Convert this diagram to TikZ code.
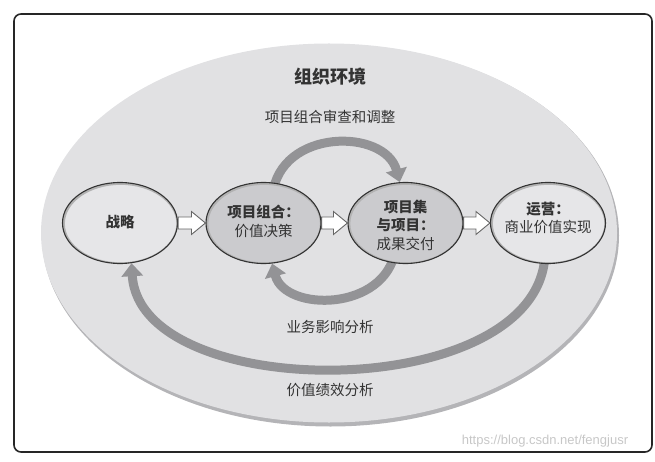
\documentclass[tikz,border=0pt]{standalone}
\usepackage{fontspec}
\setmainfont{Noto Sans CJK SC}
\newfontfamily\wmfont{Liberation Sans}
\usetikzlibrary{shapes.geometric,arrows.meta,calc}
\pgfdeclarelayer{bg}
\pgfdeclarelayer{mid}
\pgfsetlayers{bg,mid,main}
\definecolor{envfill}{HTML}{E1E1E3}
\definecolor{envrim}{HTML}{B4B4B7}
\definecolor{arcgray}{HTML}{939396}
\definecolor{lightnode}{HTML}{E6E6E8}
\definecolor{darknode}{HTML}{CBCBCE}
\definecolor{txt}{HTML}{333333}
\newcommand\blockarrow[2]{%
  \draw[hollow] ($(#1.east)+(0,-6)$) -- ($(#2.west)+(-14,-6)$) -- ($(#2.west)+(-14,-11.5)$) -- (#2.west) -- ($(#2.west)+(-14,11.5)$) -- ($(#2.west)+(-14,6)$) -- ($(#1.east)+(0,6)$) -- cycle;}
\begin{document}
\begin{tikzpicture}[x=1pt,y=-1pt,
  stage/.style={ellipse, draw=black!80, line width=1.1pt, minimum width=115pt, minimum height=81pt, inner sep=0pt,
    path picture={\draw[black!30, line width=3.5pt] ([xshift=0.6pt,yshift=-0.6pt]path picture bounding box.center) ellipse (57.5pt and 40.5pt);}},
  lightstage/.style={stage, fill=lightnode},
  darkstage/.style={stage, fill=darknode},
  stagetext/.style={align=center, text=txt, inner sep=0pt, font=\fontsize{14.5}{18.5}\selectfont},
  loop/.style={draw=arcgray, line width=9pt, -{Triangle[width=21pt,length=13pt]}},
  hollow/.style={draw=black!60, fill=white, line width=0.9pt, line join=miter},
  lbl/.style={text=txt, font=\fontsize{14.5}{17}\selectfont}
]
\useasboundingbox (0,0) rectangle (655,462);
\draw[black!85, line width=1.6pt, rounded corners=7pt] (14,14) rectangle (652,452);
\begin{pgfonlayer}{bg}
\node[ellipse, fill=envrim, minimum width=577pt, minimum height=382pt, inner sep=0] (envrim) at (330.5,235.5) {};
\node[ellipse, fill=envfill, minimum width=576pt, minimum height=379pt, inner sep=0] (env) at (329,233) {};
\end{pgfonlayer}
\node[font=\fontsize{18}{20}\selectfont\bfseries, text=txt] (title) at (330,77) {组织环境};
\node[lbl] (review) at (330,117) {项目组合审查和调整};
\node[lbl] (impact) at (330,327) {业务影响分析};
\node[lbl] (value) at (330,390) {价值绩效分析};

\node[lightstage] (zl) at (120,223) {};
\node[darkstage] (pf) at (263.5,223) {};
\node[darkstage] (xm) at (405.5,223) {};
\node[lightstage] (op) at (548,223) {};
\node[stagetext] (zlt) at ($(zl.center)+(0,-1)$) {\bfseries 战略};
\node[stagetext] (pft) at ($(pf.center)+(0,-1.5)$) {\bfseries 项目组合：\\价值决策};
\node[stagetext] (xmt) at ($(xm.center)+(0,2)$) {\bfseries 项目集\\\bfseries 与项目：\\成果交付};
\node[stagetext] (opt) at ($(op.center)+(0,-5)$) {\bfseries 运营：\\商业价值实现};

\begin{pgfonlayer}{mid}
\draw[loop] ($(pf.center)+(9,-28)$) .. controls (280,128) and (385,128) .. (xm.98);
\draw[loop] ($(xm.center)+(-10,27)$) .. controls (385,312) and (285,312) .. (pf.282);
\draw[loop] ($(op.center)+(-3,32)$) .. controls (538,405) and (140,405) .. (zl.286);
\end{pgfonlayer}

\blockarrow{zl}{pf}
\blockarrow{pf}{xm}
\blockarrow{xm}{op}

\node[font=\wmfont\fontsize{13}{13}\selectfont, text=black!22] (wm) at (545,441) {https://blog.csdn.net/fengjusr};
\end{tikzpicture}
\end{document}
